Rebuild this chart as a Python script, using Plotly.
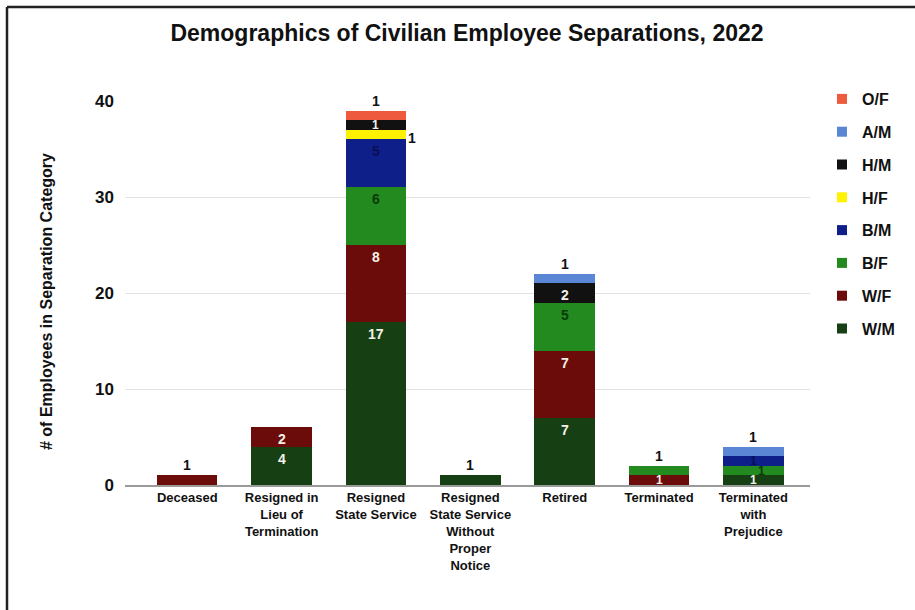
import plotly.graph_objects as go

categories = [
    "Deceased",
    "Resigned in<br>Lieu of<br>Termination",
    "Resigned<br>State Service",
    "Resigned<br>State Service<br>Without<br>Proper<br>Notice",
    "Retired",
    "Terminated",
    "Terminated<br>with<br>Prejudice",
]

# Stacked from the bottom up
series_names = ["W/M", "W/F", "B/F", "B/M", "H/F", "H/M", "A/M", "O/F"]
w_m = [0, 4, 17, 1, 7, 0, 1]
w_f = [1, 2, 8, 0, 7, 1, 0]
b_f = [0, 0, 6, 0, 5, 1, 1]
b_m = [0, 0, 5, 0, 0, 0, 1]
h_f = [0, 0, 1, 0, 0, 0, 0]
h_m = [0, 0, 1, 0, 2, 0, 0]
a_m = [0, 0, 0, 0, 1, 0, 1]
o_f = [0, 0, 1, 0, 0, 0, 0]
series_values = [w_m, w_f, b_f, b_m, h_f, h_m, a_m, o_f]

y_ticks = [0, 10, 20, 30, 40]

bar_colors = {
    "W/M": "#173f14", "W/F": "#6b0c0a", "B/F": "#228a1e", "B/M": "#0e1f8a",
    "H/F": "#fff200", "H/M": "#111111", "A/M": "#5b86d6", "O/F": "#ee5a3e",
}
label_colors = {
    "W/M": "#f4f0e6", "W/F": "#f4f0e6", "B/F": "#0b3a0b", "B/M": "#0a0f55",
    "H/F": "#111111", "H/M": "#f4f0e6", "A/M": "#111111", "O/F": "#111111",
}

FONT = "Liberation Sans, Arial, sans-serif"

fig = go.Figure()
x_idx = list(range(len(categories)))
n = len(series_names)
for k, (name, vals) in enumerate(zip(series_names, series_values)):
    fig.add_trace(go.Bar(
        name=name, x=x_idx, y=vals, marker_color=bar_colors[name],
        marker_line_width=0, legendgroup=name, showlegend=False,
    ))
    # Small square legend swatch; top of stack listed first
    fig.add_trace(go.Scatter(
        name=name, x=[None], y=[None], mode="markers", legendgroup=name,
        legendrank=n - k,
        marker=dict(symbol="square", size=10, color=bar_colors[name]),
        showlegend=True,
    ))

# Segment value labels
annotations = []
for i in x_idx:
    base = 0
    top_total = sum(s[i] for s in series_values)
    shift_next = False
    for name, vals in zip(series_names, series_values):
        v = vals[i]
        if v == 0:
            continue
        top = base + v
        if top == top_total and v == 1:
            annotations.append(dict(x=i, y=top, text=str(v), showarrow=False,
                                    yanchor="bottom",
                                    font=dict(family=FONT, size=14, color="#111111", weight="bold")))
        elif name == "H/F":
            annotations.append(dict(x=i, y=base + v / 2, text=str(v), showarrow=False,
                                    xshift=36, yshift=-3,
                                    font=dict(family=FONT, size=14, color="#111111", weight="bold")))
        elif v == 1:
            # Thin one-unit segments: compact label, alternately nudged aside
            annotations.append(dict(x=i, y=base + v / 2, text=str(v), showarrow=False,
                                    xshift=8 if shift_next else 0,
                                    font=dict(family=FONT, size=12, color=label_colors[name], weight="bold")))
            shift_next = not shift_next
            base = top
            continue
        else:
            annotations.append(dict(x=i, y=base + v / 2, text=str(v), showarrow=False,
                                    yshift=v * 4.8 - 12,
                                    font=dict(family=FONT, size=14, color=label_colors[name], weight="bold")))
        shift_next = False
        base = top

L, R, T, B = 125, 105, 101, 125
W, H = 915, 610
dw, dh = W - L - R, H - T - B
def px(p): return (p - L) / dw
def py(q): return (H - B - q) / dh

# Y-axis title
annotations.append(dict(
    x=px(46), y=py(302), xref="paper", yref="paper", xanchor="center", yanchor="middle",
    text="# of Employees in Separation Category", textangle=-90, showarrow=False,
    font=dict(family=FONT, size=16, color="#111111", weight="bold"),
))

# Frame lines on the left and top edges of the page
shapes = [
    dict(type="line", xref="paper", yref="paper", x0=px(7), x1=px(7), y0=py(7), y1=py(610),
         line=dict(color="#222222", width=2.5)),
    dict(type="line", xref="paper", yref="paper", x0=px(7), x1=px(915), y0=py(7), y1=py(7),
         line=dict(color="#222222", width=2.5)),
]

fig.update_layout(
    width=W, height=H,
    margin=dict(l=L, r=R, t=T, b=B),
    barmode="stack", bargap=0.36,
    paper_bgcolor="white", plot_bgcolor="white",
    title=dict(text="Demographics of Civilian Employee Separations, 2022",
               x=px(467), xref="paper", xanchor="center", y=1 - 33 / H, yanchor="middle",
               font=dict(family=FONT, size=23, color="#111111", weight="bold")),
    legend=dict(x=px(822), y=py(82), xanchor="left", yanchor="top",
                traceorder="grouped", tracegroupgap=9,
                font=dict(family=FONT, size=16, color="#111111", weight="bold"),
                bgcolor="rgba(0,0,0,0)"),
    annotations=annotations,
    shapes=shapes,
)
fig.update_xaxes(
    range=[-0.66, 6.6], tickmode="array", tickvals=x_idx, ticktext=categories,
    tickangle=0, showgrid=False, showline=True, linecolor="#9a9a9a", linewidth=1.5,
    ticks="", tickfont=dict(family=FONT, size=13, color="#111111", weight="bold"),
    zeroline=False,
)
fig.update_yaxes(
    range=[0, 40], tickvals=y_ticks, showgrid=True, gridcolor="#e3e3e3", gridwidth=1,
    zeroline=False, ticks="", ticklabelstandoff=10,
    tickfont=dict(family=FONT, size=17, color="#111111", weight="bold"),
)

fig.write_html("out.html")
